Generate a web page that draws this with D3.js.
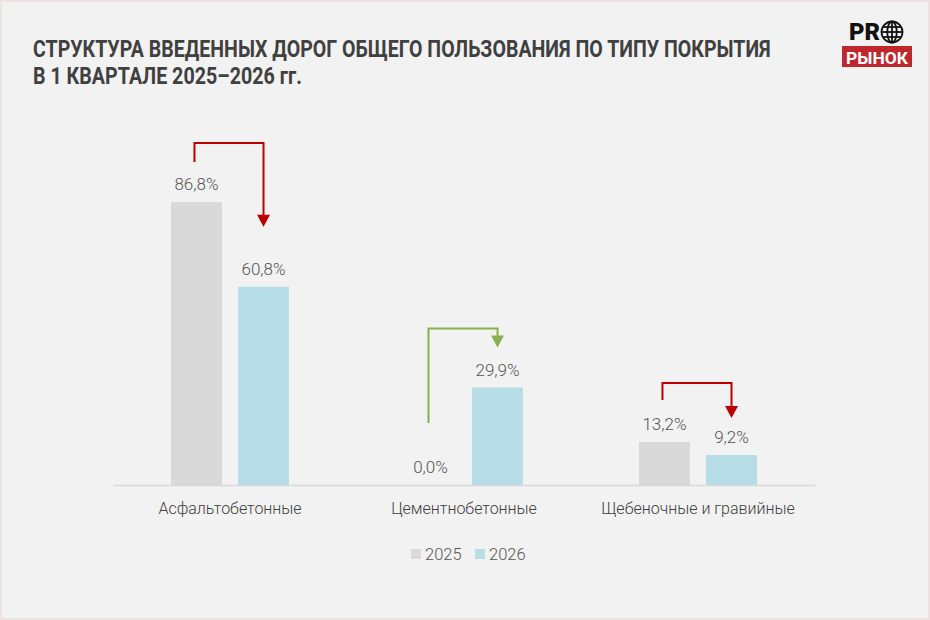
<!DOCTYPE html>
<html>
<head>
<meta charset="utf-8">
<script src="https://cdn.jsdelivr.net/npm/d3@7"></script>
<style>
  html, body { margin: 0; padding: 0; background: #f2f2f2; }
  svg { display: block; }
</style>
</head>
<body>
<svg id="chart" width="930" height="620"></svg>
<script>
// data
const categories = ["Асфальтобетонные", "Цементнобетонные", "Щебеночные и гравийные"];
const years = ["2025", "2026"];
const values2025 = [86.8, 0.0, 13.2];
const values2026 = [60.8, 29.9, 9.2];
const colors = { "2025": "#d9d9d9", "2026": "#b7dde7" };
const titleLines = ["СТРУКТУРА ВВЕДЕННЫХ ДОРОГ ОБЩЕГО ПОЛЬЗОВАНИЯ ПО ТИПУ ПОКРЫТИЯ", "В 1 КВАРТАЛЕ 2025–2026 гг."];

// arrows between the two years (up = growth, down = drop)
const arrows = [
  { cat: 0, color: "#c00000", startAbove: 40, tipAbove: 60 },
  { cat: 1, color: "#8caf4d", startAbove: 62, tipAbove: 40 },
  { cat: 2, color: "#c00000", startAbove: 42, tipAbove: 37 }
];

const width = 930, height = 620;
const margin = { left: 113, right: 115, top: 120, bottom: 135 };
const svg = d3.select("#chart");

// background + faint frame
svg.append("rect").attr("x", 1).attr("y", 1).attr("width", width - 2).attr("height", height - 2)
  .attr("fill", "#f2f2f2").attr("stroke", "#efe2e3").attr("stroke-width", 2);

// title: condensed look = smaller font stretched vertically
const titleWidths = [738, 269];
const title = svg.append("g").attr("font-family", "Roboto, 'Liberation Sans', sans-serif")
  .attr("font-weight", 700).attr("fill", "#404040");
titleLines.forEach((t, i) => {
  const yb = 57 + i * 27;
  const txt = title.append("text").attr("x", 0).attr("y", 0).attr("font-size", 23).text(t);
  const natural = txt.node().getComputedTextLength();
  const fs = 23 * titleWidths[i] / natural;
  txt.attr("font-size", fs)
    .attr("transform", `translate(33,${yb}) scale(1,${23 / fs})`);
});

// logo
const logo = svg.append("g").attr("font-family", "Roboto, 'Liberation Sans', sans-serif").attr("font-weight", 900);
logo.append("text").attr("x", 849).attr("y", 40).attr("font-size", 23).attr("fill", "#111")
  .attr("textLength", 31).attr("lengthAdjust", "spacingAndGlyphs").text("PR");
const gx = 892, gy = 32, gr = 10.5;
const globe = logo.append("g").attr("fill", "none").attr("stroke", "#111").attr("stroke-width", 1.8);
globe.append("circle").attr("cx", gx).attr("cy", gy).attr("r", gr);
globe.append("ellipse").attr("cx", gx).attr("cy", gy).attr("rx", gr * 0.45).attr("ry", gr);
globe.append("line").attr("x1", gx).attr("x2", gx).attr("y1", gy - gr).attr("y2", gy + gr);
globe.append("line").attr("x1", gx - gr).attr("x2", gx + gr).attr("y1", gy).attr("y2", gy);
globe.append("line").attr("x1", gx - gr * 0.85).attr("x2", gx + gr * 0.85).attr("y1", gy - 5).attr("y2", gy - 5);
globe.append("line").attr("x1", gx - gr * 0.85).attr("x2", gx + gr * 0.85).attr("y1", gy + 5).attr("y2", gy + 5);
logo.append("rect").attr("x", 842).attr("y", 46).attr("width", 70).attr("height", 21).attr("fill", "#c0272d");
logo.append("text").attr("x", 877).attr("y", 63.5).attr("text-anchor", "middle")
  .attr("font-size", 17).attr("fill", "#fff").attr("font-weight", 700)
  .attr("textLength", 62).attr("lengthAdjust", "spacingAndGlyphs").text("РЫНОК");

// scales
const x0 = d3.scaleBand().domain(categories).range([margin.left, width - margin.right]);
const x1 = d3.scaleBand().domain(years).range([58, x0.bandwidth() - 58]).paddingInner(0.24);
const y = d3.scaleLinear().domain([0, 100]).range([height - margin.bottom, height - margin.bottom - 326]);

const rows = categories.map((c, i) => ({ cat: c, vals: [
  { year: "2025", v: values2025[i] }, { year: "2026", v: values2026[i] }] }));

const groups = svg.append("g").selectAll("g").data(rows).join("g")
  .attr("transform", d => `translate(${x0(d.cat)},0)`);

groups.selectAll("rect").data(d => d.vals).join("rect")
  .attr("x", d => x1(d.year)).attr("width", x1.bandwidth())
  .attr("y", d => y(d.v)).attr("height", d => y(0) - y(d.v))
  .attr("fill", d => colors[d.year]);

groups.selectAll("text.val").data(d => d.vals).join("text").attr("class", "val")
  .attr("x", d => x1(d.year) + x1.bandwidth() / 2).attr("y", d => y(d.v) - 12)
  .attr("text-anchor", "middle")
  .attr("font-family", "Roboto, sans-serif").attr("font-weight", 300).attr("font-size", 17)
  .attr("fill", "#555")
  .text(d => d3.format(".1f")(d.v).replace(".", ",") + "%");

// axis
const xAxis = svg.append("g").attr("transform", `translate(0,${y(0)})`)
  .call(d3.axisBottom(x0).tickSize(0).tickPadding(18));
xAxis.select(".domain").attr("stroke", "#d9d9d9").attr("stroke-width", 1.5);
xAxis.selectAll("text").attr("font-family", "Roboto, sans-serif").attr("font-weight", 300)
  .attr("font-size", 16).attr("fill", "#404040");

// arrows
const arrowG = svg.append("g");
arrows.forEach(a => {
  const c = categories[a.cat];
  const xa = x0(c) + x1("2025") + x1.bandwidth() / 2 - 2;
  const xb = x0(c) + x1("2026") + x1.bandwidth() / 2;
  const top = y(Math.max(values2025[a.cat], values2026[a.cat])) - 59;
  const start = y(values2025[a.cat]) - a.startAbove;
  const tip = y(values2026[a.cat]) - a.tipAbove;
  arrowG.append("path")
    .attr("d", `M${xa},${start}V${top}H${xb}V${tip - 10}`)
    .attr("fill", "none").attr("stroke", a.color).attr("stroke-width", 2);
  arrowG.append("path")
    .attr("d", `M${xb - 6.5},${tip - 12}L${xb + 6.5},${tip - 12}L${xb},${tip}Z`)
    .attr("fill", a.color);
});

// legend
const legend = svg.append("g").attr("transform", "translate(411,549)");
const li = legend.selectAll("g").data(years).join("g").attr("transform", (d, i) => `translate(${i * 64},0)`);
li.append("rect").attr("width", 10).attr("height", 10).attr("fill", d => colors[d]);
li.append("text").attr("x", 14).attr("y", 11).attr("font-family", "Roboto, sans-serif").attr("font-weight", 300)
  .attr("font-size", 16.5).attr("fill", "#555").text(d => d);
</script>
</body>
</html>
